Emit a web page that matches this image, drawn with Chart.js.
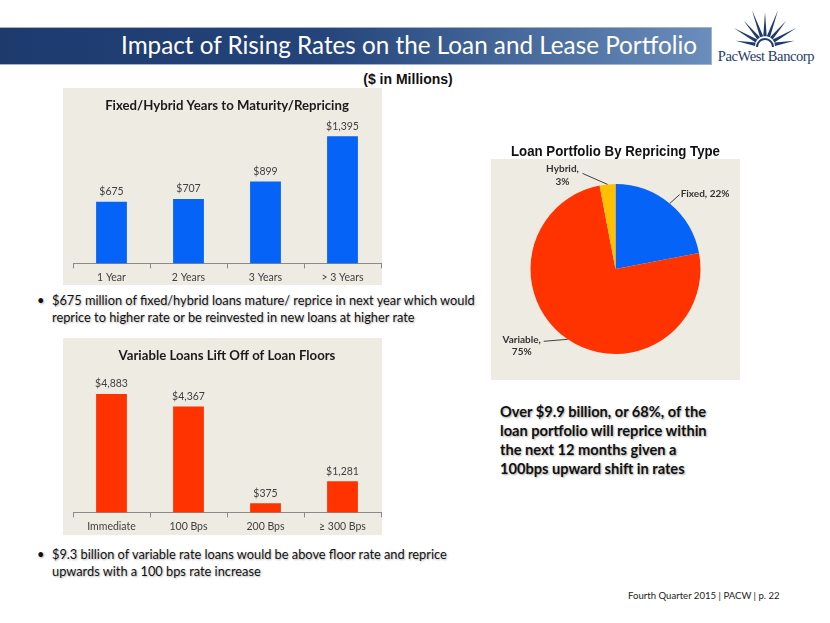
<!DOCTYPE html>
<html>
<head>
<meta charset="utf-8">
<script src="https://cdn.jsdelivr.net/npm/chart.js@4/dist/chart.umd.min.js"></script>
<style>
  html,body{margin:0;padding:0;background:#fff;}
  body{width:830px;height:623px;position:relative;overflow:hidden;font-family:Lato,"Open Sans",sans-serif;}
  .abs{position:absolute;}
  #titlebar{left:0;top:27px;width:711px;height:36px;background:linear-gradient(to right,#1e3a6d 0%,#24447a 45%,#6a8dbb 100%);border-top:1px solid #9fb3cf;border-bottom:1px solid #9fb3cf;border-right:1px solid #9fb3cf;}
  #titletext{right:14px;top:-1px;height:36px;line-height:36px;color:#fff;font-size:26px;white-space:nowrap;}
  #units{left:300px;width:216px;top:71px;text-align:center;font-family:"Liberation Sans",Arial,sans-serif;font-weight:bold;font-size:14px;color:#111;}
  .box{background:#eeebe3;}
  .bullet{color:#111;font-size:14px;line-height:17px;white-space:nowrap;text-shadow:1px 1px 2px rgba(0,0,0,0.3);}
  .bullet .dot{position:absolute;left:-15px;top:0;}
  #callout{left:500px;top:402px;color:#111;font-weight:bold;font-size:16px;line-height:19px;white-space:nowrap;text-shadow:1px 1px 2px rgba(0,0,0,0.35);}
  #footer{left:628px;top:590px;font-size:11px;color:#222;white-space:nowrap;}
  #logo{left:712px;top:2px;width:116px;height:70px;}
  #logotext{left:716px;top:48px;width:100px;text-align:center;font-family:"Liberation Serif","DejaVu Serif",serif;font-size:14.5px;color:#1f3a6e;white-space:nowrap;letter-spacing:-0.4px;}
  canvas{position:absolute;}
</style>
</head>
<body>
<div id="titlebar" class="abs"><div id="titletext" class="abs">Impact of Rising Rates on the Loan and Lease Portfolio</div></div>
<svg id="logo" class="abs" viewBox="712 2 116 70" width="116" height="70"></svg>
<div id="logotext" class="abs">PacWest Bancorp</div>
<div id="units" class="abs">($ in Millions)</div>

<div class="abs box" style="left:63px;top:88px;width:319px;height:197px;"></div>
<canvas id="c1" width="319" height="198" style="left:63px;top:88px;"></canvas>

<div class="abs box" style="left:63px;top:338px;width:319px;height:197px;"></div>
<canvas id="c2" width="319" height="197" style="left:63px;top:338px;"></canvas>

<div class="abs box" style="left:491px;top:159px;width:249px;height:221px;"></div>
<canvas id="c3" width="249" height="240" style="left:491px;top:140px;"></canvas>

<div class="abs bullet" style="left:52px;top:292px;"><span class="dot">•</span><span id="b1l1">$675 million of fixed/hybrid loans mature/ reprice in next year which would</span><br>reprice to higher rate or be reinvested in new loans at higher rate</div>
<div class="abs bullet" style="left:52px;top:546px;"><span class="dot">•</span><span id="b2l1">$9.3 billion of variable rate loans would be above floor rate and reprice</span><br>upwards with a 100 bps rate increase</div>

<div id="callout" class="abs"><span id="cl2ref">Over $9.9 billion, or 68%, of the</span><br>loan portfolio will reprice within<br>the next 12 months given a<br>100bps upward shift in rates</div>

<div id="footer" class="abs"><span id="footref">Fourth Quarter 2015 | PACW | p. 22</span></div>

<script>
// ---------------- DATA ----------------
const fixedTitle = 'Fixed/Hybrid Years to Maturity/Repricing';
const fixedCategories = ['1 Year', '2 Years', '3 Years', '> 3 Years'];
const fixedValues = [675, 707, 899, 1395];

const variableTitle = 'Variable Loans Lift Off of Loan Floors';
const variableCategories = ['Immediate', '100 Bps', '200 Bps', '\u2265 300 Bps'];
const variableValues = [4883, 4367, 375, 1281];

const pieTitle = 'Loan Portfolio By Repricing Type';
const pieLabels = ['Fixed', 'Variable', 'Hybrid'];
const pieValues = [22, 75, 3];

// ---------------- STYLE ----------------
const FONT = 'Lato, "Open Sans", sans-serif';
const BLUE = '#0563f7';
const RED = '#ff3300';
const YELLOW = '#ffc000';

// text fitting helper (layout only)
function fitWidth(el, ref, target){
  const w = ref.getBoundingClientRect().width;
  const fs = parseFloat(getComputedStyle(el).fontSize);
  el.style.fontSize = (fs * target / w) + 'px';
}
fitWidth(document.getElementById('titletext'), document.getElementById('titletext'), 576);
const bullets = document.querySelectorAll('.bullet');
fitWidth(bullets[0], document.getElementById('b1l1'), 423);
bullets[1].style.fontSize = bullets[0].style.fontSize;
fitWidth(document.getElementById('callout'), document.getElementById('cl2ref'), 206);
fitWidth(document.getElementById('footer'), document.getElementById('footref'), 152);

// logo starburst (decoration)
(function(){
  const svg = document.getElementById('logo');
  const cx = 765, cy = 46, r0 = 10;
  const lens = [30, 36, 33, 38, 34, 38, 33, 36, 30];
  let s = '';
  const n = lens.length;
  for(let i=0;i<n;i++){
    const a = Math.PI + (i+0.5)*Math.PI/n;
    const hw = 0.17;
    const bx1 = cx + Math.cos(a-hw)*r0, by1 = cy + Math.sin(a-hw)*r0;
    const bx2 = cx + Math.cos(a+hw)*r0, by2 = cy + Math.sin(a+hw)*r0;
    const tx = cx + Math.cos(a)*lens[i], ty = cy + Math.sin(a)*lens[i];
    s += `<polygon points="${bx1},${by1} ${tx},${ty} ${bx2},${by2}" fill="#1f3a6e"/>`;
  }
  s += `<path d="M ${cx-8} ${cy+1} A 8 8 0 0 1 ${cx+8} ${cy+1}" fill="none" stroke="#1f3a6e" stroke-width="2"/>`;
  svg.innerHTML = s;
})();

// ---------------- PLUGINS ----------------
const barValueLabels = {
  id: 'barValueLabels',
  afterDatasetsDraw(chart){
    const ctx = chart.ctx;
    const ds = chart.data.datasets[0];
    chart.getDatasetMeta(0).data.forEach((el, i) => {
      ctx.save();
      ctx.font = '10.5px ' + FONT;
      ctx.fillStyle = '#404040';
      ctx.textAlign = 'center';
      ctx.textBaseline = 'middle';
      ctx.fillText('$' + ds.data[i].toLocaleString('en-US'), el.x, el.y - 10);
      ctx.restore();
    });
  }
};

const pieLabelStyle = [
  {dx: 10, dy: -9, align: 'left', tx: 1, ty: [-1]},
  {dx: -24, dy: 2, align: 'center', tx: -22, ty: [-2, 10]},
  {dx: -25, dy: -11, align: 'center', tx: -20, ty: [-5, 8]}
];
const pieLeaderLabels = {
  id: 'pieLeaderLabels',
  afterDatasetsDraw(chart){
    const ctx = chart.ctx;
    const meta = chart.getDatasetMeta(0);
    meta.data.forEach((arc, i) => {
      const st = pieLabelStyle[i];
      const mid = (arc.startAngle + arc.endAngle) / 2;
      const ax = arc.x + Math.cos(mid) * arc.outerRadius;
      const ay = arc.y + Math.sin(mid) * arc.outerRadius;
      const ex = ax + st.dx, ey = ay + st.dy;
      ctx.save();
      ctx.strokeStyle = '#404040';
      ctx.lineWidth = 1;
      ctx.beginPath(); ctx.moveTo(ax, ay); ctx.lineTo(ex, ey); ctx.stroke();
      ctx.font = 'bold 10px ' + FONT;
      ctx.fillStyle = '#333';
      ctx.textAlign = st.align;
      ctx.textBaseline = 'middle';
      const lbl = chart.data.labels[i] + ',';
      const val = chart.data.datasets[0].data[i] + '%';
      const lines = st.ty.length === 1 ? [lbl + ' ' + val] : [lbl, val];
      lines.forEach((t, k) => ctx.fillText(t, ex + st.tx, ey + st.ty[k]));
      ctx.restore();
    });
  }
};

// ---------------- CHARTS ----------------
function barChart(id, title, cats, vals, color, ymax){
  return new Chart(document.getElementById(id), {
    type: 'bar',
    data: { labels: cats, datasets: [{ data: vals, backgroundColor: color, borderWidth: 0, barPercentage: 0.4, categoryPercentage: 1 }] },
    options: {
      responsive: false, animation: false,
      layout: { padding: { left: 10, right: 1, top: 0, bottom: 0 } },
      plugins: {
        legend: { display: false }, tooltip: { enabled: false },
        title: { display: true, text: title, color: '#1a1a1a', font: { family: FONT, size: 13.2, weight: 'bold' }, padding: { top: 9.5, bottom: 5.5 } }
      },
      scales: {
        x: {
          grid: { display: true, drawOnChartArea: false, drawTicks: true, tickLength: 5, color: '#8a8a8a', offset: true },
          border: { display: true, color: '#8a8a8a' },
          ticks: { color: '#404040', font: { family: FONT, size: 10.5 }, padding: 2.5, maxRotation: 0 }
        },
        y: { display: false, min: 0, max: ymax }
      }
    },
    plugins: [barValueLabels]
  });
}
barChart('c1', fixedTitle, fixedCategories, fixedValues, BLUE, 1585);
barChart('c2', variableTitle, variableCategories, variableValues, RED, 5926);

new Chart(document.getElementById('c3'), {
  type: 'pie',
  data: { labels: pieLabels, datasets: [{ data: pieValues, backgroundColor: [BLUE, RED, YELLOW], borderWidth: 0 }] },
  options: {
    responsive: false, animation: false,
    layout: { padding: { left: 20, right: 20, top: 0, bottom: 26 } },
    plugins: {
      legend: { display: false }, tooltip: { enabled: false },
      title: { display: true, text: pieTitle, color: '#111', font: { family: '"Liberation Sans", Arial, sans-serif', size: 14.6, weight: 'bold' }, padding: { top: 3, bottom: 23.5 } }
    }
  },
  plugins: [pieLeaderLabels]
});
</script>
</body>
</html>
